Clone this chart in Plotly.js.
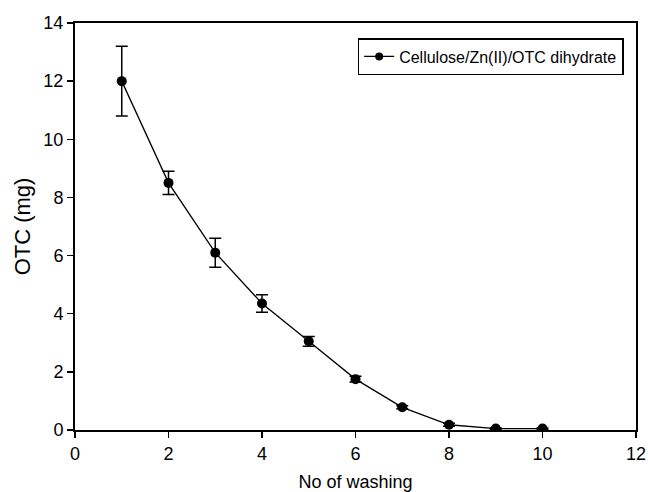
<!DOCTYPE html>
<html>
<head>
<meta charset="utf-8">
<script src="https://cdn.plot.ly/plotly-3.0.1.min.js"></script>
<style>html,body{margin:0;padding:0;background:#fff;}#chart{width:648px;height:492px;}</style>
</head>
<body>
<div id="chart"></div>
<script>
const washings = [1, 2, 3, 4, 5, 6, 7, 8, 9, 10];
const otcMg = [12.0, 8.5, 6.1, 4.35, 3.05, 1.75, 0.78, 0.18, 0.05, 0.05];
const otcErr = [1.2, 0.4, 0.5, 0.3, 0.17, 0.1, 0.05, 0.05, 0.02, 0.02];
const seriesName = 'Cellulose/Zn(II)/OTC dihydrate';
const xTicks = [0, 2, 4, 6, 8, 10, 12];
const yTicks = [0, 2, 4, 6, 8, 10, 12, 14];

const font = 'Liberation Sans, Arial, sans-serif';
const trace = {
  x: washings, y: otcMg, name: seriesName, type: 'scatter', mode: 'lines+markers',
  line: {color: '#000', width: 1.3},
  marker: {color: '#000', size: 10, symbol: 'circle'},
  error_y: {type: 'data', array: otcErr, visible: true, color: '#000', thickness: 1.5, width: 6},
  showlegend: false
};
const legendTrace = {
  x: [null], y: [null], name: seriesName, type: 'scatter', mode: 'lines+markers',
  line: {color: '#000', width: 1.3},
  marker: {color: '#000', size: 8, symbol: 'circle'},
  showlegend: true, hoverinfo: 'skip'
};
const layout = {
  width: 648, height: 492,
  margin: {l: 75, r: 12, t: 23, b: 62},
  paper_bgcolor: '#fff', plot_bgcolor: '#fff',
  font: {family: font, color: '#000'},
  xaxis: {
    range: [0, 12], tickvals: xTicks, ticktext: xTicks.map(String),
    showgrid: false, zeroline: false, showline: true, linecolor: '#000', linewidth: 2, mirror: true,
    ticks: 'outside', ticklen: 6, tickwidth: 1.5, tickcolor: '#000',
    tickfont: {size: 18, family: font},
    title: {text: 'No of washing', font: {size: 18, family: font}, standoff: 14}
  },
  yaxis: {
    range: [0, 14], tickvals: yTicks, ticktext: yTicks.map(String),
    showgrid: false, zeroline: false, showline: true, linecolor: '#000', linewidth: 2, mirror: true,
    ticks: 'outside', ticklen: 6, tickwidth: 1.5, tickcolor: '#000',
    tickfont: {size: 18, family: font},
    title: {text: 'OTC (mg)', font: {size: 22, family: font}, standoff: 7}
  },
  legend: {
    x: 0.978, y: 0.963, xanchor: 'right', yanchor: 'top',
    bordercolor: '#000', borderwidth: 1.5, bgcolor: '#fff',
    font: {size: 16, family: font}
  },
  showlegend: true
};
Plotly.newPlot('chart', [trace, legendTrace], layout, {displayModeBar: false, staticPlot: true});
</script>
</body>
</html>
